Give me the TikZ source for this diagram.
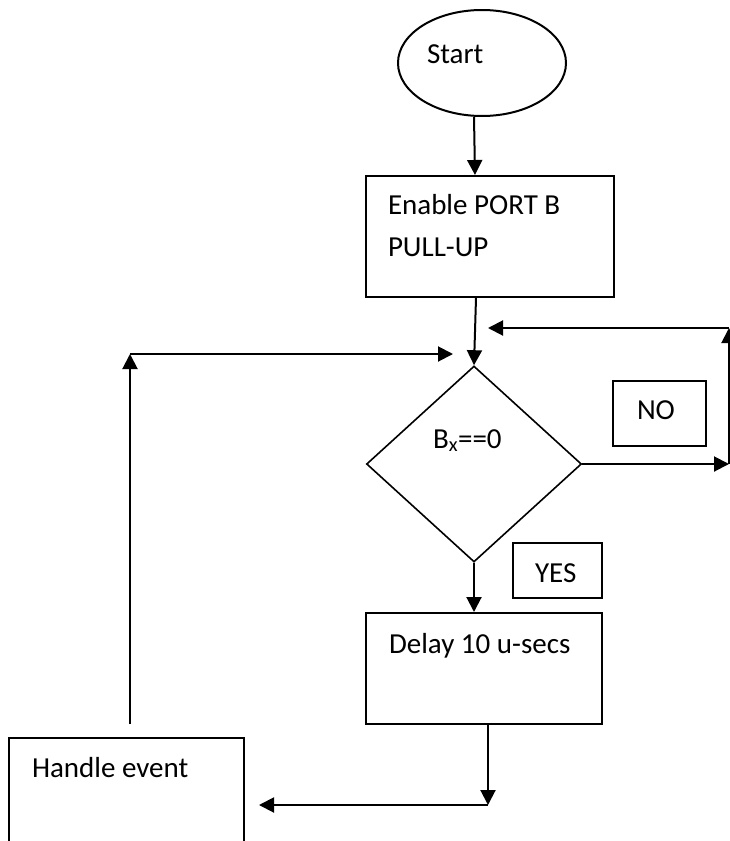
\documentclass[tikz,border=0pt]{standalone}
\usepackage{fontspec}
\setmainfont{Carlito}
\usetikzlibrary{arrows.meta, shapes.geometric}

\begin{document}
\begin{tikzpicture}[x=1pt, y=-1pt, line width=2pt,
    box/.style={draw, rectangle, inner sep=0pt},
    txt/.style={inner sep=0pt, anchor=base west, font=\fontsize{29}{42}\selectfont},
    arr/.style={-{Triangle[length=15pt, width=15pt]}}]
  \useasboundingbox (0,0) rectangle (730,841);

  % Start
  \node[draw, ellipse, inner sep=0pt, minimum width=168pt, minimum height=106pt] (start) at (482,63) {};
  \node[txt] (starttxt) at (426,63) {Start};

  % Enable pull-up
  \node[box, minimum width=248pt, minimum height=121pt] (enable) at (490,236.5) {};
  \node[txt] (enabletxt) at (387,214) {Enable PORT B};
  \node[txt] (pulluptxt) at (387,256) {PULL-UP};

  % Test
  \node[draw, diamond, line width=1.6pt, inner sep=0pt, minimum width=215pt, minimum height=196pt] (test) at (474,464) {};
  \node[txt] (testtxt) at (432,448) {B\textsubscript{x}==0};

  % NO / YES labels
  \node[box, minimum width=93pt, minimum height=65pt] (no) at (659.5,413.5) {};
  \node[txt] (notxt) at (636,419) {NO};
  \node[box, minimum width=89pt, minimum height=55pt] (yes) at (557.5,570.5) {};
  \node[txt] (yestxt) at (534,582) {YES};

  % Delay
  \node[box, minimum width=236pt, minimum height=111pt] (delay) at (484,668.5) {};
  \node[txt] (delaytxt) at (388,653) {Delay 10 u-secs};

  % Handle event (cut by the page edge)
  \node[box, minimum width=235pt, minimum height=122pt] (handle) at (126.5,799) {};
  \node[txt] (handletxt) at (31,777) {Handle event};

  % Loose ends of the connectors
  \coordinate (noR) at (729,464);
  \coordinate (noT) at (729,328);
  \coordinate (noL) at (488,328);
  \coordinate (dlB) at (488,805);
  \coordinate (hvL) at (259,805);
  \coordinate (hnB) at (130,724);
  \coordinate (hnT) at (130,354);
  \coordinate (jn) at (453,354);

  % Forward connections
  \draw[arr] ([xshift=-8pt]start.south) -- ([xshift=-15pt]enable.north);
  \draw[arr] ([xshift=-14pt]enable.south) -- (test.north);
  \draw[arr] (test.south) -- (delay.north -| test.south);
  \draw[arr] ([xshift=4pt]delay.south) -- (dlB);
  \draw[arr] (dlB) -- (hvL);

  % NO loop
  \draw[arr] (test.east) -- (noR);
  \draw[arr] (noR) -- (noT);
  \draw[arr] (noT) -- (noL);

  % Back from Handle event
  \draw[arr] (hnB) -- (hnT);
  \draw[arr] (hnT) -- (jn);

\end{tikzpicture}
\end{document}
